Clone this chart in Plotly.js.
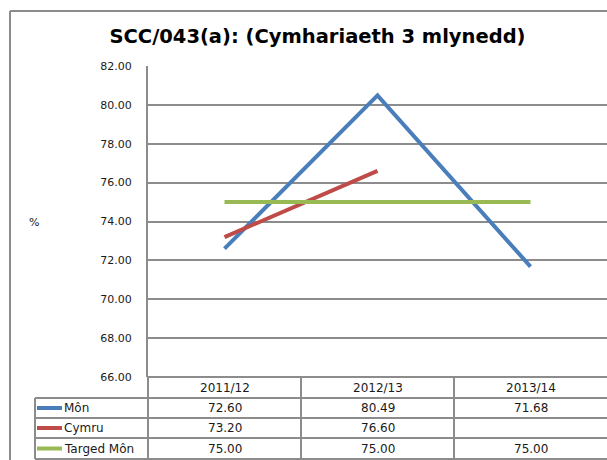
<!DOCTYPE html>
<html>
<head>
<meta charset="utf-8">
<script src="https://cdn.plot.ly/plotly-3.0.1.min.js"></script>
<style>html,body{margin:0;padding:0;background:#fff}#chart{width:607px;height:460px}</style>
</head>
<body>
<div id="chart"></div>
<script>
const categories = ["2011/12", "2012/13", "2013/14"];
const seriesNames = ["Môn", "Cymru", "Targed Môn"];
const monValues = [72.60, 80.49, 71.68];
const cymruValues = [73.20, 76.60, null];
const targedValues = [75.00, 75.00, 75.00];
const seriesColors = ["#4a7ebb", "#be4b48", "#98b954"];
const yTicks = [66, 68, 70, 72, 74, 76, 78, 80, 82];

const allValues = [monValues, cymruValues, targedValues];

const W = 607, H = 460;
const L = 148, R = 0, T = 66, B = 83;
const pw = W - L - R, ph = H - T - B;
const px = p => (p - L) / pw;
const py = p => (H - B - p) / ph;

const traces = allValues.map((vals, i) => ({
  type: "scatter", mode: "lines", x: categories, y: vals, name: seriesNames[i],
  line: {color: seriesColors[i], width: 4}, connectgaps: false, hoverinfo: "skip"
}));

const lineCol = "#8c8c8c";
const shapes = [];
const annotations = [];
const font = {family: "DejaVu Sans", size: 12, color: "#1a1a1a"};
const tickFont = {family: "DejaVu Sans", size: 11, color: "#1a1a1a"};

// outer chart border (left and top)
shapes.push({type: "line", xref: "paper", yref: "paper", x0: px(10), x1: px(10), y0: py(11), y1: py(470), line: {color: "#8c8c8c", width: 2}});
shapes.push({type: "line", xref: "paper", yref: "paper", x0: px(10), x1: px(620), y0: py(11), y1: py(11), line: {color: "#8c8c8c", width: 2}});

// table row lines
const rowY = [377, 398, 418, 438, 459];
rowY.forEach((y, k) => {
  const x0 = k === 0 ? L : 35;
  shapes.push({type: "line", xref: "paper", yref: "paper", x0: px(x0), x1: px(620), y0: py(y), y1: py(y), line: {color: lineCol, width: 2}});
});
// table verticals
shapes.push({type: "line", xref: "paper", yref: "paper", x0: px(35), x1: px(35), y0: py(398), y1: py(459), line: {color: lineCol, width: 2}});
shapes.push({type: "line", xref: "paper", yref: "paper", x0: px(L), x1: px(L), y0: py(377), y1: py(459), line: {color: lineCol, width: 2}});
categories.forEach((c, i) => {
  if (i === 0) return;
  shapes.push({type: "line", xref: "x", yref: "paper", x0: i - 0.5, x1: i - 0.5, y0: py(377), y1: py(459), line: {color: lineCol, width: 2}});
});

// header labels
categories.forEach((c, i) => {
  annotations.push({xref: "x", yref: "paper", x: i, y: py(387.5), text: c, showarrow: false, font: font, xanchor: "center", yanchor: "middle"});
});
// series rows
seriesNames.forEach((name, s) => {
  const yc = (rowY[s + 1] + rowY[s + 2]) / 2;
  shapes.push({type: "line", xref: "paper", yref: "paper", x0: px(37), x1: px(62), y0: py(yc), y1: py(yc), line: {color: seriesColors[s], width: 4}});
  annotations.push({xref: "paper", yref: "paper", x: px(62), y: py(yc), text: name, showarrow: false, font: font, xanchor: "left", yanchor: "middle"});
  allValues[s].forEach((v, i) => {
    if (v === null) return;
    annotations.push({xref: "x", yref: "paper", x: i, y: py(yc), text: v.toFixed(2), showarrow: false, font: font, xanchor: "center", yanchor: "middle"});
  });
});
// % axis label
annotations.push({xref: "paper", yref: "paper", x: px(34), y: py(222), text: "%", showarrow: false, font: tickFont, xanchor: "center", yanchor: "middle"});

const layout = {
  width: W, height: H,
  margin: {l: L, r: R, t: T, b: B, pad: 0},
  paper_bgcolor: "#fff", plot_bgcolor: "#fff",
  showlegend: false,
  title: {text: "<b>SCC/043(a): (Cymhariaeth 3 mlynedd)</b>", x: 317.5 / W, xanchor: "center", y: 1 - 36 / H, yanchor: "middle",
          font: {family: "DejaVu Sans", size: 19.5, color: "#000"}},
  xaxis: {type: "category", range: [-0.5, 2.5], showticklabels: false, showgrid: false, zeroline: false, showline: false, ticks: ""},
  yaxis: {range: [66, 82], tickvals: yTicks, tickformat: ".2f", showgrid: true, gridcolor: lineCol, gridwidth: 2,
          showline: true, linecolor: lineCol, linewidth: 2, zeroline: false, ticks: "", ticklabelstandoff: 12,
          tickfont: tickFont},
  shapes: shapes, annotations: annotations
};

Plotly.newPlot("chart", traces, layout, {staticPlot: true, displayModeBar: false});
</script>
</body>
</html>
